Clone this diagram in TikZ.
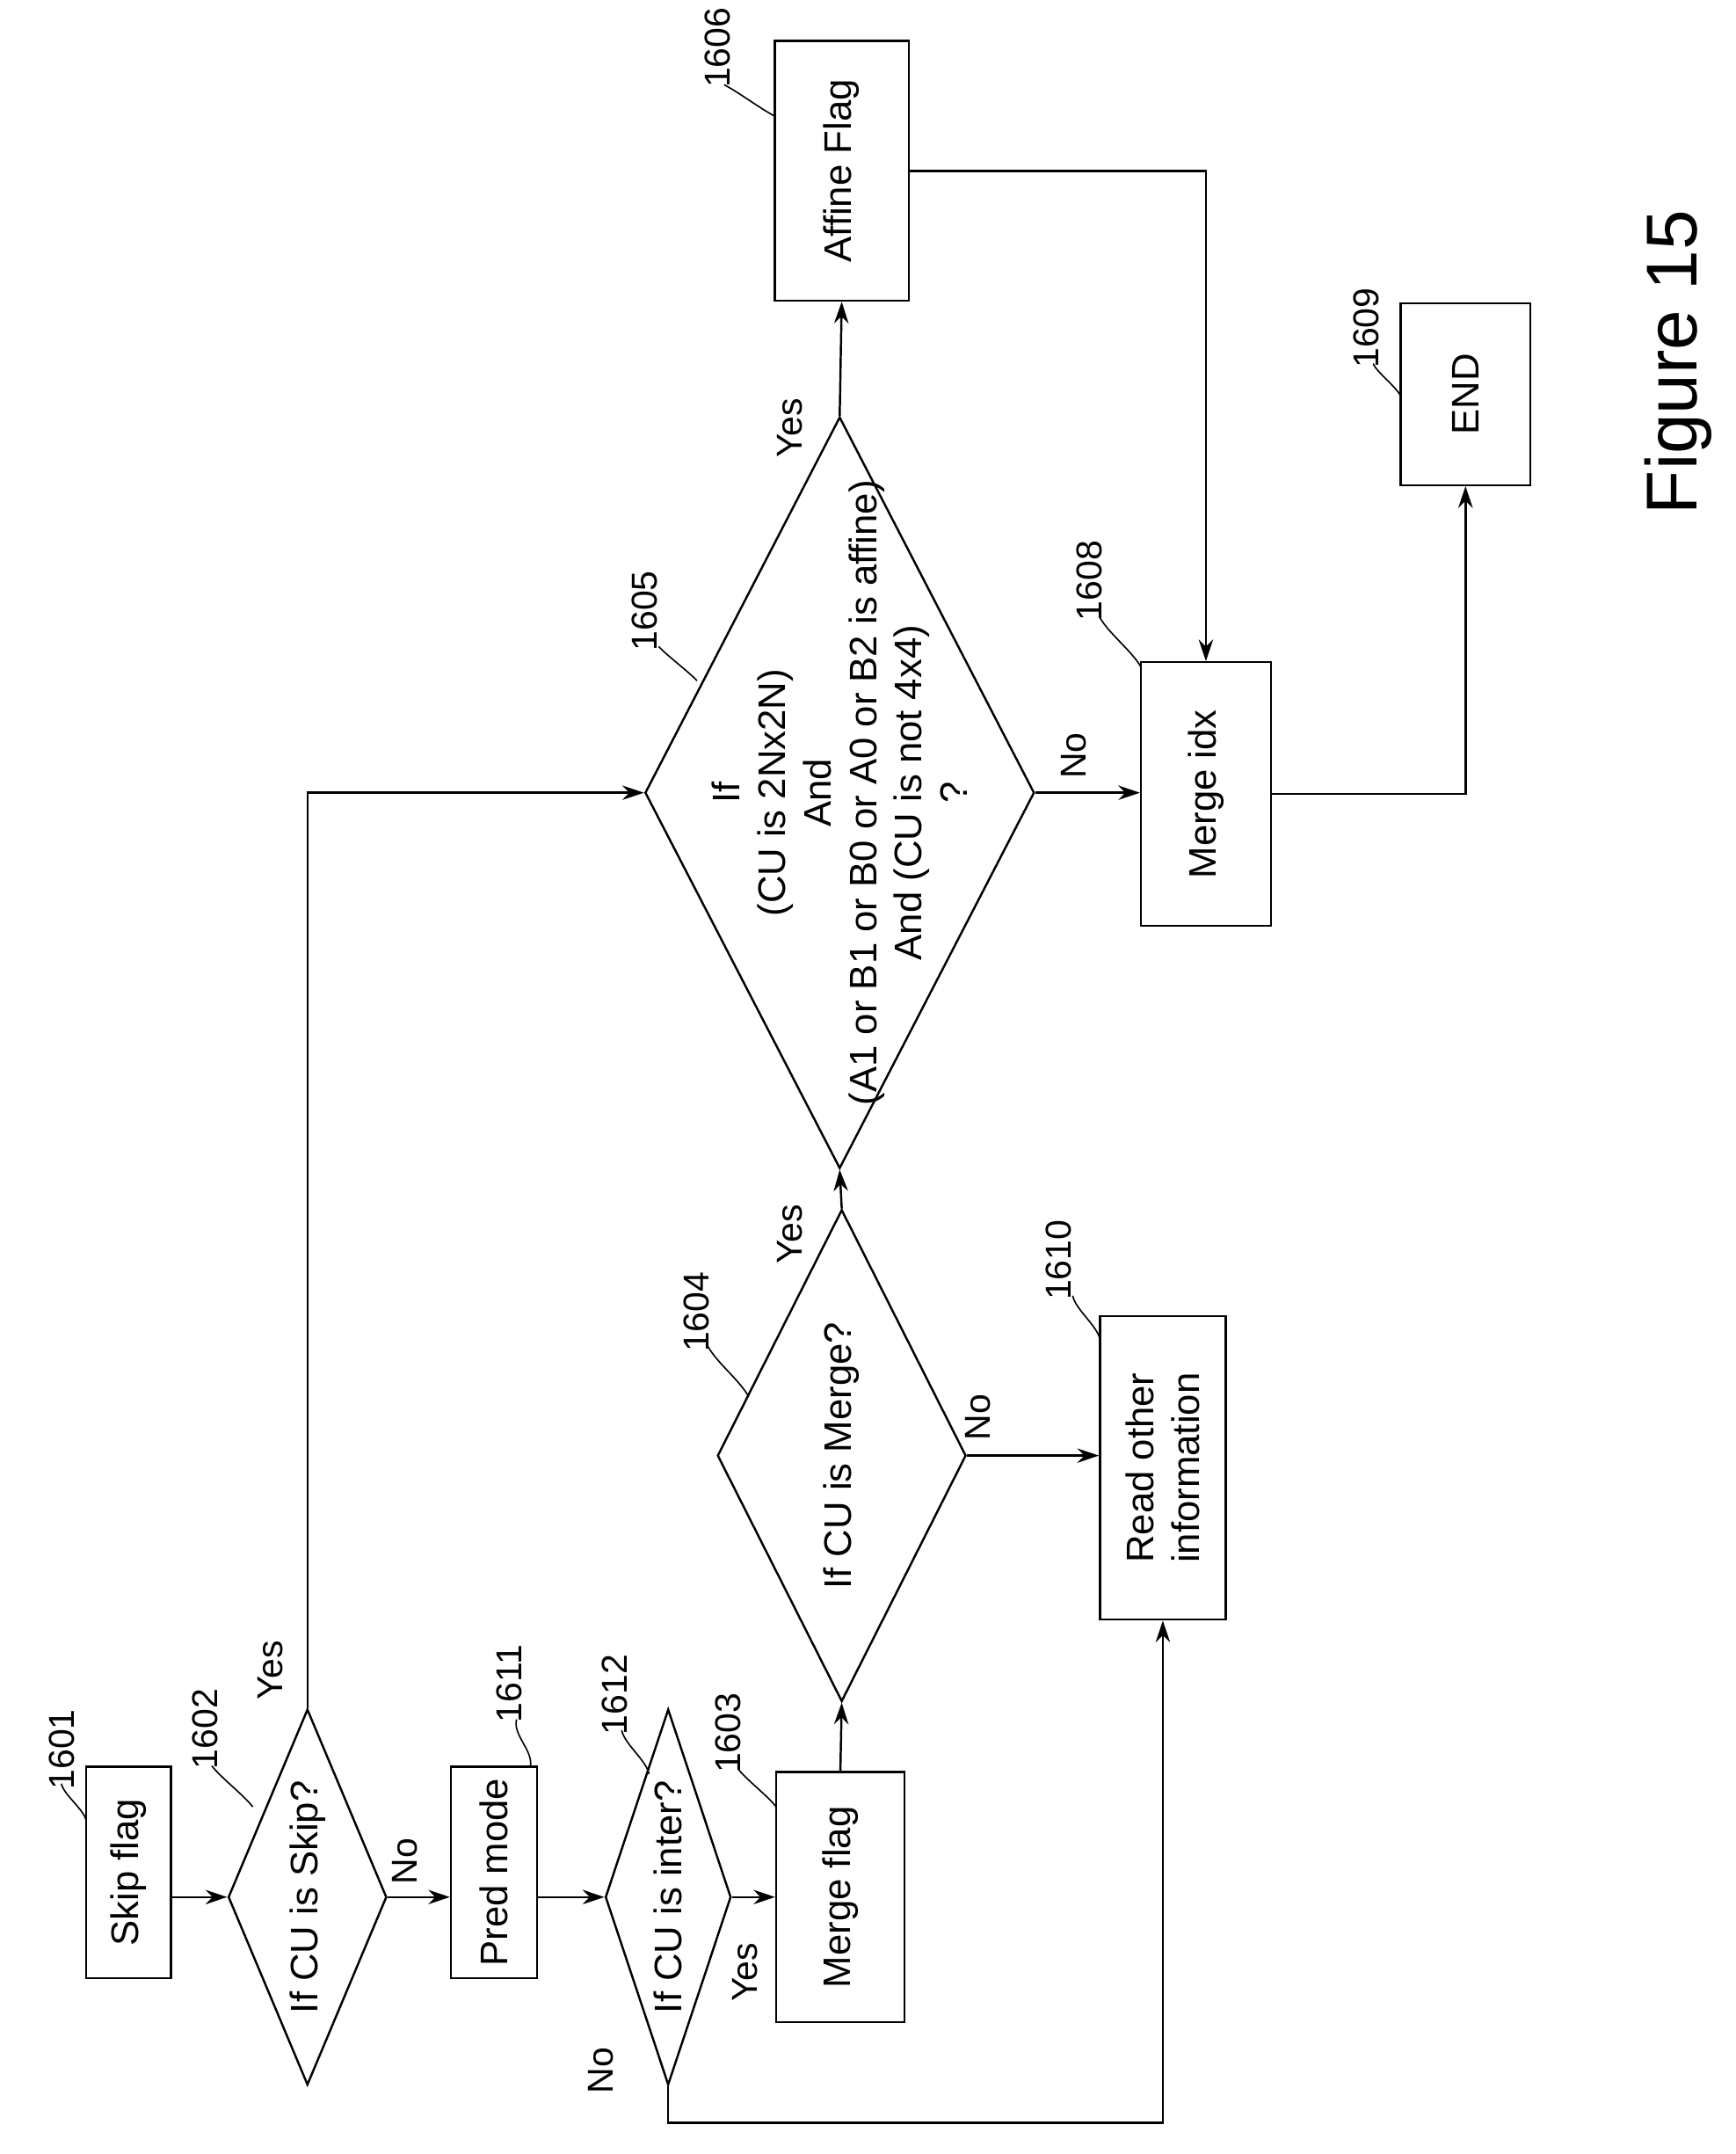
\documentclass[tikz,border=0pt]{standalone}
\usepackage{fontspec}
\setmainfont{Liberation Sans}
\usetikzlibrary{shapes.geometric,arrows.meta,calc}
\begin{document}
\begin{tikzpicture}[x=0.02cm,y=-0.02cm,line width=0.9pt,
  box/.style={draw,rectangle,inner sep=0pt},
  dia/.style={draw,diamond,inner sep=0pt,aspect=1},
  txt/.style={rotate=90,font=\fontsize{16}{19}\selectfont,align=center,inner sep=0pt},
  lab/.style={rotate=90,font=\fontsize{15}{18}\selectfont,inner sep=0pt},
  arr/.style={-{Stealth[length=9pt,width=6pt]}},
  lead/.style={line width=0.6pt}]
\useasboundingbox (0,0) rectangle (1270,1576);
% boxes
\node[box,minimum width=1.24cm,minimum height=3.1cm] (b1601) at (94,1370) {};
\node[txt] (t1601) at (b1601) {Skip flag};
\node[box,minimum width=1.26cm,minimum height=3.1cm] (b1611) at (361.5,1370) {};
\node[txt] (t1611) at (b1611) {Pred mode};
\node[box,minimum width=1.88cm,minimum height=3.66cm] (b1603) at (615,1388) {};
\node[txt] (t1603) at (b1603) {Merge flag};
\node[box,minimum width=1.84cm,minimum height=4.44cm] (b1610) at (851,1074) {};
\node[txt] (t1610) at (b1610) {Read other\\information};
\node[box,minimum width=1.96cm,minimum height=3.8cm] (b1606) at (616,125) {};
\node[txt] (t1606) at (b1606) {Affine Flag};
\node[box,minimum width=1.9cm,minimum height=3.86cm] (b1608) at (882.5,581) {};
\node[txt] (t1608) at (b1608) {Merge idx};
\node[box,minimum width=1.9cm,minimum height=2.66cm] (b1609) at (1072.5,288.5) {};
\node[txt] (t1609) at (b1609) {END};
% diamonds
\node[dia,minimum width=2.32cm,minimum height=5.5cm] (d1602) at (225,1388) {};
\node[txt] (t1602) at (d1602) {If CU is Skip?};
\node[dia,minimum width=1.84cm,minimum height=5.5cm] (d1612) at (489,1388) {};
\node[txt] (t1612) at (d1612) {If CU is inter?};
\node[dia,minimum width=3.64cm,minimum height=7.2cm] (d1604) at (616,1065) {};
\node[txt] (t1604) at (d1604) {If CU is Merge?};
\node[dia,minimum width=5.7cm,minimum height=11cm] (d1605) at (614.5,580) {};
\node[txt] (t1605) at (d1605) {If\\(CU is 2Nx2N)\\And\\(A1 or B1 or B0 or A0 or B2 is affine)\\And (CU is not 4x4)\\?};
% connectors
\draw[arr] (b1601.east|-d1602.west) -- (d1602.west);
\draw[arr] (d1602.east) -- (b1611.west|-d1602.east);
\coordinate (c1) at (d1602.north|-d1605.west);
\draw[arr] (d1602.north) -- (c1) -- (d1605.west);
\draw[arr] (b1611.east|-d1612.west) -- (d1612.west);
\draw[arr] (d1612.east) -- (b1603.west|-d1612.east);
\coordinate (c2) at (489,1553);
\coordinate (c3) at (b1610.south|-c2);
\draw[arr] (d1612.south) -- (c2) -- (c3) -- (b1610.south);
\draw[arr] (b1603.north) -- (d1604.south);
\draw[arr] (d1604.north) -- (d1605.south);
\draw[arr] (d1604.east) -- (b1610.west|-d1604.east);
\draw[arr] (d1605.north) -- (b1606.south);
\coordinate (c4) at (b1608.north|-b1606.east);
\draw[arr] (b1606.east) -- (c4) -- (b1608.north);
\draw[arr] (d1605.east) -- (b1608.west|-d1605.east);
\coordinate (c5) at (b1609.south|-b1608.east);
\draw[arr] (b1608.east) -- (c5) -- (b1609.south);
% yes/no labels
\node[lab] (y1) at (198,1222) {Yes};
\node[lab] (n1) at (296,1362) {No};
\node[lab] (n2) at (440,1515) {No};
\node[lab] (y2) at (545,1443) {Yes};
\node[lab] (y3) at (578,903) {Yes};
\node[lab] (n3) at (716,1037) {No};
\node[lab] (y4) at (578,313) {Yes};
\node[lab] (n4) at (786,553) {No};
% reference numbers
\node[lab] (l1601) at (45,1280) {1601};
\node[lab] (l1602) at (150,1265) {1602};
\node[lab] (l1611) at (373,1232) {1611};
\node[lab] (l1612) at (450,1240) {1612};
\node[lab] (l1603) at (533,1268) {1603};
\node[lab] (l1604) at (510,960) {1604};
\node[lab] (l1610) at (775,922) {1610};
\node[lab] (l1605) at (472,447) {1605};
\node[lab] (l1606) at (525,35) {1606};
\node[lab] (l1608) at (797,425) {1608};
\node[lab] (l1609) at (1000,240) {1609};
\node[rotate=90,font=\fontsize{30}{36}\selectfont] (fig) at (1228,265) {Figure 15};
% leaders
\newcommand{\ldr}[2]{\draw[lead] #1 .. controls ($#1!0.5!#2+(-8,-6)$) and ($#1!0.5!#2+(8,6)$) .. #2;}
\ldr{(45,1305)}{(63,1332)}
\ldr{(155,1292)}{(185,1322)}
\ldr{(378,1258)}{(388,1293)}
\ldr{(455,1266)}{(475,1298)}
\ldr{(540,1294)}{(568,1322)}
\ldr{(518,985)}{(548,1022)}
\ldr{(785,948)}{(805,980)}
\ldr{(482,473)}{(510,498)}
\ldr{(530,62)}{(567,85)}
\ldr{(805,452)}{(835,488)}
\ldr{(1005,266)}{(1025,290)}
\end{tikzpicture}
\end{document}
